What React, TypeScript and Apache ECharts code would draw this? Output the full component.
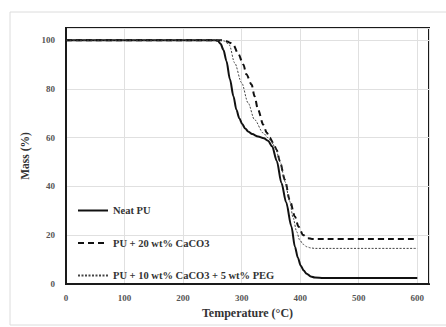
import React, { useEffect, useRef } from "react";
import * as echarts from "echarts";

const seriesNames = ["Neat PU", "PU + 20 wt% CaCO3", "PU + 10 wt% CaCO3 + 5 wt% PEG"];

const neatT = [0, 200, 255, 259, 264, 269, 274, 280, 286, 291, 296, 301, 306, 311, 318, 328, 338, 345, 352, 360, 368, 376, 385, 391, 396, 401, 406, 411, 418, 425, 440, 600];
const neatM = [100, 100, 100, 99.8, 98.5, 96, 91.5, 84, 77, 71.5, 68, 65.6, 63.8, 62.6, 61.5, 60.5, 59.8, 58.8, 56.5, 50.5, 41.4, 33.5, 23.6, 15.3, 10.8, 7.5, 5.5, 4.2, 3.1, 2.7, 2.5, 2.5];

const cacoT = [0, 200, 268, 274, 280, 286, 294, 303, 308, 317, 322, 328, 337, 343, 348, 354, 360, 365, 374, 382, 391, 397, 405, 413, 420, 600];
const cacoM = [100, 100, 100, 99.6, 99, 98, 94.5, 90, 86, 81.8, 77, 71.5, 65.3, 62, 60, 57.8, 55, 50.5, 42.7, 34.5, 27.7, 23.6, 20.1, 18.8, 18.5, 18.5];

const pegT = [0, 200, 265, 271, 279, 288, 300, 311, 322, 337, 345, 351, 358, 366, 374, 382, 388, 394, 399, 405, 411, 418, 425, 600];
const pegM = [100, 100, 100, 99.6, 98, 90.7, 82.5, 74.3, 67.4, 61.9, 60, 58.5, 55.5, 50, 42, 34, 27, 21.5, 18.1, 16.3, 15.3, 14.8, 14.6, 14.6];

const xTicks = [0, 100, 200, 300, 400, 500, 600];
const yTicks = [0, 20, 40, 60, 80, 100];

const FONT = "'Liberation Serif', 'Times New Roman', serif";

function pairs(t: number[], m: number[]) {
  return t.map((v, i) => [v, m[i]]);
}

export default function App() {
  const ref = useRef<HTMLDivElement>(null);
  useEffect(() => {
    if (!ref.current) return;
    const chart = echarts.init(ref.current, null, { renderer: "svg" });
    chart.setOption({
      animation: false,
      backgroundColor: "#fff",
      graphic: [
        {
          type: "rect",
          shape: { x: 10, y: 12, width: 470, height: 313 },
          style: { fill: "none", stroke: "#dcdcdc", lineWidth: 1 },
          silent: true,
        },
      ],
      grid: {
        left: 66,
        top: 28,
        width: 363,
        height: 256,
        show: true,
        borderColor: "#1a1a1a",
        borderWidth: 2,
        backgroundColor: "transparent",
      },
      legend: {
        orient: "vertical",
        left: 72,
        top: 200,
        itemWidth: 30,
        itemHeight: 10,
        itemGap: 21.5,
        data: seriesNames,
        itemStyle: { opacity: 0 },
        textStyle: { fontFamily: FONT, fontSize: 10.5, fontWeight: "bold", color: "#333" },
      },
      xAxis: {
        type: "value",
        min: 0,
        max: 620,
        interval: 100,
        name: "Temperature (°C)",
        nameLocation: "middle",
        nameGap: 22,
        nameTextStyle: { fontFamily: FONT, fontSize: 12, fontWeight: "bold", color: "#333" },
        axisLine: { show: true, lineStyle: { color: "#1a1a1a", width: 2 } },
        axisTick: { show: false },
        axisLabel: {
          fontFamily: FONT,
          fontSize: 9,
          fontWeight: "bold",
          color: "#555",
          margin: 9,
          formatter: (v: number) => (xTicks.includes(v) ? String(v) : ""),
        },
        splitLine: { show: true, lineStyle: { color: "#e0e0e0", width: 1 } },
      },
      yAxis: {
        type: "value",
        min: 0,
        max: 105,
        interval: 20,
        name: "Mass (%)",
        nameLocation: "middle",
        nameGap: 32,
        nameTextStyle: { fontFamily: FONT, fontSize: 11.5, fontWeight: "bold", color: "#333" },
        axisLine: { show: true, lineStyle: { color: "#1a1a1a", width: 2 } },
        axisTick: { show: false },
        axisLabel: {
          fontFamily: FONT,
          fontSize: 9,
          fontWeight: "bold",
          color: "#555",
          margin: 11,
          formatter: (v: number) => (yTicks.includes(v) ? String(v) : ""),
        },
        splitLine: { show: true, lineStyle: { color: "#e0e0e0", width: 1 } },
      },
      series: [
        {
          name: seriesNames[0],
          type: "line",
          data: pairs(neatT, neatM),
          showSymbol: false,
          symbol: "none",
          smooth: 0.3,
          smoothMonotone: "x",
          lineStyle: { color: "#111", width: 2, type: "solid" },
          itemStyle: { color: "#111" },
        },
        {
          name: seriesNames[1],
          type: "line",
          data: pairs(cacoT, cacoM),
          showSymbol: false,
          symbol: "none",
          smooth: 0.3,
          smoothMonotone: "x",
          lineStyle: { color: "#111", width: 2, type: [6, 4] },
          itemStyle: { color: "#111" },
        },
        {
          name: seriesNames[2],
          type: "line",
          data: pairs(pegT, pegM),
          showSymbol: false,
          symbol: "none",
          smooth: 0.3,
          smoothMonotone: "x",
          lineStyle: { color: "#444", width: 1, type: [2, 1.5] },
          itemStyle: { color: "#444" },
        },
      ],
    });
    return () => chart.dispose();
  }, []);
  return (
    <div
      ref={ref}
      style={{ position: "absolute", left: 0, top: 0, width: 446, height: 327, background: "#fff" }}
    />
  );
}
